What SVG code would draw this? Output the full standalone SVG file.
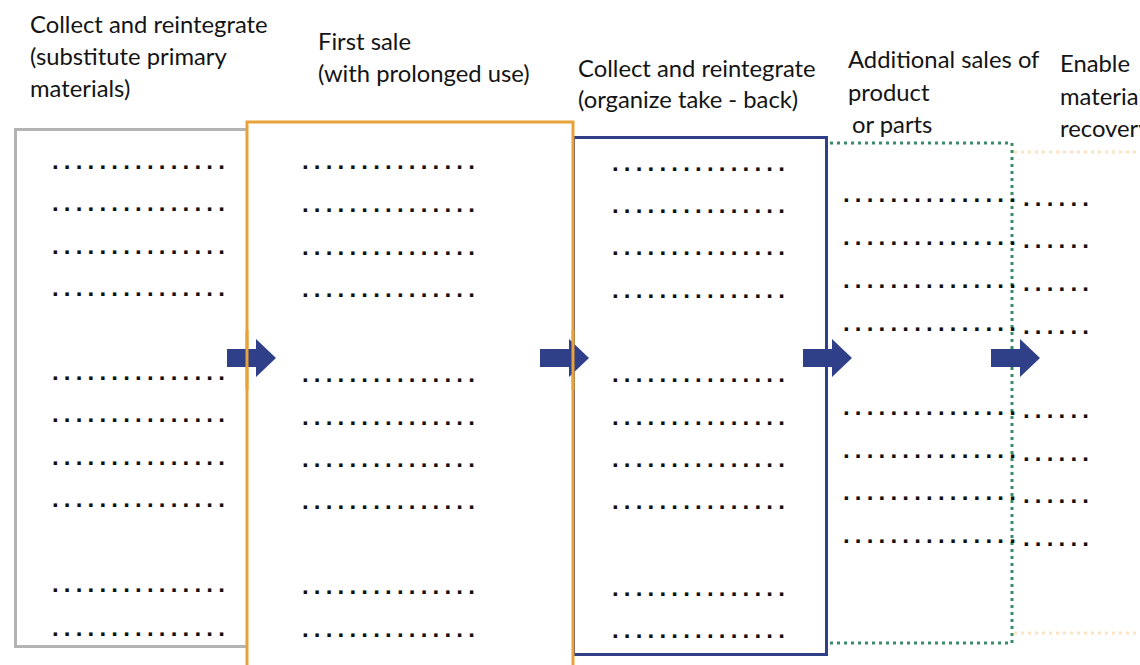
<svg xmlns="http://www.w3.org/2000/svg" width="1140" height="665" viewBox="0 0 1140 665">
  <defs>
    <style>
      .lbl { font-family: Lato, "Open Sans", sans-serif; font-size: 23.8px; fill: #141414; }
      .dots { font-family: "Liberation Sans", Arial, sans-serif; font-size: 24px; font-weight: bold; fill: #111; letter-spacing: 5.2px; }
      .arrow { fill: #2f3f88; }
    </style>
    <path id="arr" d="M0,-9 H29 V-19 L49,0 L29,19 V9 H0 Z"/>
  </defs>
  <rect width="1140" height="665" fill="#ffffff"/>

  <!-- stage 1: substitute primary materials -->
  <g id="stage-collect-substitute">
    <path d="M247,129.5 H15.5 V646.5 H247" fill="none" stroke="#b3b3b3" stroke-width="3"/>
    <text class="lbl" x="30" y="33">Collect and reintegrate</text>
    <text class="lbl" x="30" y="65">(substitute primary</text>
    <text class="lbl" x="30" y="97">materials)</text>
    <g class="dots">
      <text x="52" y="169">...............</text>
      <text x="52" y="211">...............</text>
      <text x="52" y="254">...............</text>
      <text x="52" y="296">...............</text>
      <text x="52" y="380">...............</text>
      <text x="52" y="422">...............</text>
      <text x="52" y="465">...............</text>
      <text x="52" y="507">...............</text>
      <text x="52" y="592">...............</text>
      <text x="52" y="636">...............</text>
    </g>
  </g>

  <!-- stage 3: organize take-back -->
  <g id="stage-take-back">
    <rect x="573.5" y="137.5" width="253" height="517" fill="none" stroke="#2f3f88" stroke-width="3"/>
    <text class="lbl" x="578" y="77">Collect and reintegrate</text>
    <text class="lbl" x="578" y="108">(organize take - back)</text>
    <g class="dots">
      <text x="612" y="171">...............</text>
      <text x="612" y="213">...............</text>
      <text x="612" y="255">...............</text>
      <text x="612" y="298">...............</text>
      <text x="612" y="382">...............</text>
      <text x="612" y="425">...............</text>
      <text x="612" y="467">...............</text>
      <text x="612" y="509">...............</text>
      <text x="612" y="596">...............</text>
      <text x="612" y="638">...............</text>
    </g>
  </g>

  <!-- stage 2: first sale -->
  <g id="stage-first-sale">
    <rect x="247" y="122" width="326" height="560" fill="none" stroke="#e8a23a" stroke-width="3"/>
    <text class="lbl" x="318" y="50">First sale</text>
    <text class="lbl" x="318" y="82">(with prolonged use)</text>
    <g class="dots">
      <text x="302" y="169">...............</text>
      <text x="302" y="212">...............</text>
      <text x="302" y="255">...............</text>
      <text x="302" y="297">...............</text>
      <text x="302" y="382">...............</text>
      <text x="302" y="425">...............</text>
      <text x="302" y="467">...............</text>
      <text x="302" y="509">...............</text>
      <text x="302" y="594">...............</text>
      <text x="302" y="637">...............</text>
    </g>
  </g>

  <!-- stage 5: material recovery (extends past the right edge) -->
  <g id="stage-recovery">
    <path d="M1014,152 H1140 M1014,633 H1140" fill="none" stroke="#fbe3c6" stroke-width="3" stroke-dasharray="3 4"/>
    <text class="lbl" x="1060" y="72">Enable</text>
    <text class="lbl" x="1060" y="105">material</text>
    <text class="lbl" x="1060" y="137">recovery</text>
    <g class="dots">
      <text x="1023" y="206">......</text>
      <text x="1023" y="248">......</text>
      <text x="1023" y="291">......</text>
      <text x="1023" y="334">......</text>
      <text x="1023" y="418">......</text>
      <text x="1023" y="461">......</text>
      <text x="1023" y="503">......</text>
      <text x="1023" y="546">......</text>
    </g>
  </g>

  <!-- stage 4: additional sales -->
  <g id="stage-additional-sales">
    <path d="M830,143 H1012 V643 H830" fill="none" stroke="#3b8a69" stroke-width="3" stroke-dasharray="3 4"/>
    <text class="lbl" x="848" y="68">Additional sales of</text>
    <text class="lbl" x="848" y="101">product</text>
    <text class="lbl" x="852" y="133">or parts</text>
    <g class="dots">
      <text x="843" y="202">...............</text>
      <text x="843" y="245">...............</text>
      <text x="843" y="288">...............</text>
      <text x="843" y="331">...............</text>
      <text x="843" y="415">...............</text>
      <text x="843" y="458">...............</text>
      <text x="843" y="500">...............</text>
      <text x="843" y="543">...............</text>
    </g>
  </g>

  <!-- flow arrows between stages -->
  <g id="connectors" class="arrow">
    <use href="#arr" x="227" y="358"/>
    <use href="#arr" x="540" y="358"/>
    <use href="#arr" x="803" y="358"/>
    <use href="#arr" x="991" y="358"/>
  </g>
  <!-- stage borders that run across the arrows -->
  <g id="borders-over-arrows" fill="none">
    <line x1="247" y1="330" x2="247" y2="390" stroke="#e8a23a" stroke-width="3"/>
    <line x1="573" y1="330" x2="573" y2="390" stroke="#e8a23a" stroke-width="3"/>
    <line x1="826.5" y1="330" x2="826.5" y2="390" stroke="#2f3f88" stroke-width="3"/>
  </g>
</svg>
